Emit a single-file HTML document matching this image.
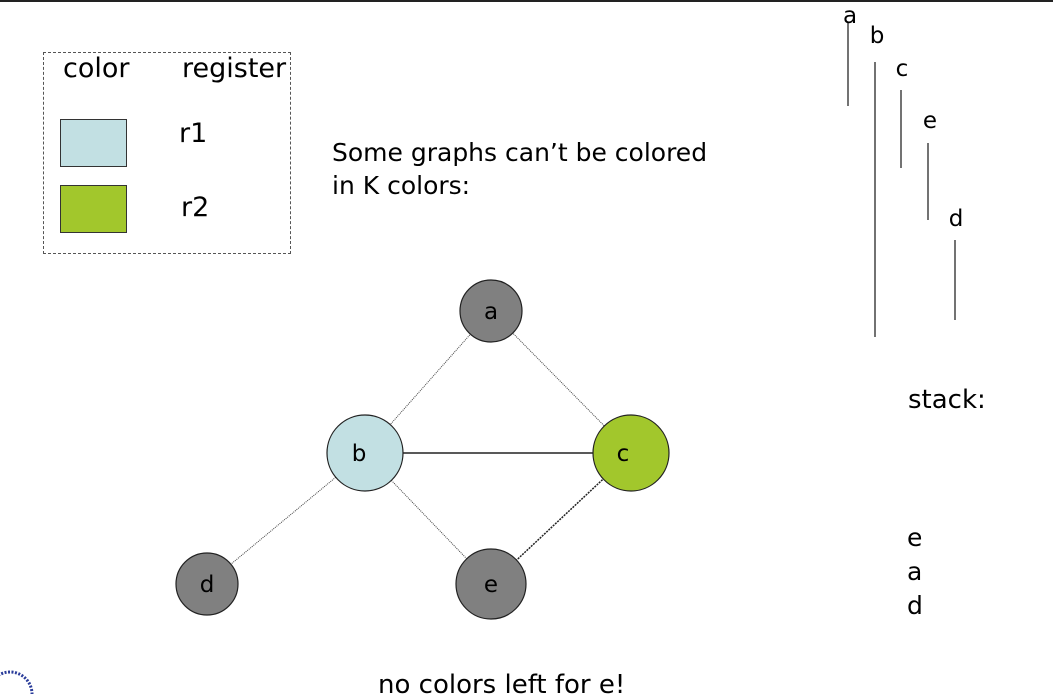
<!DOCTYPE html>
<html><head><style>
body{margin:0;width:1053px;height:694px;background:#fff;overflow:hidden;position:relative;font-family:"DejaVu Sans","Liberation Sans",sans-serif;}
.t{position:absolute;color:#000;white-space:nowrap;}
</style></head><body>
<div style="position:absolute;left:0;top:0;width:1053px;height:2px;background:#222"></div>
<div style="position:absolute;left:43px;top:52px;width:246px;height:200px;border:1.5px dashed #555;"></div>
<div class="t" style="left:63px;top:53px;font-size:27px">color</div>
<div class="t" style="left:182px;top:53px;font-size:27px">register</div>
<div style="position:absolute;left:60px;top:119px;width:65px;height:46px;background:#c2e0e3;border:1px solid #333"></div>
<div style="position:absolute;left:60px;top:185px;width:65px;height:46px;background:#a2c72c;border:1px solid #333"></div>
<div class="t" style="left:179px;top:118px;font-size:27px">r1</div>
<div class="t" style="left:181px;top:192px;font-size:27px">r2</div>
<div class="t" style="left:332px;top:136px;font-size:25px;line-height:33px">Some graphs can’t be colored<br>in K colors:</div>
<svg style="position:absolute;left:0;top:0" width="1053" height="694">
<g stroke="#444" fill="none">
<line x1="491" y1="311" x2="365" y2="453" stroke-dasharray="1,1" stroke-width="1"/>
<line x1="491" y1="311" x2="631" y2="453" stroke-dasharray="1,1" stroke-width="1"/>
<line x1="365" y1="453" x2="631" y2="453" stroke="#222" stroke-width="1.5"/>
<line x1="365" y1="453" x2="207" y2="584" stroke-dasharray="1,1" stroke-width="1"/>
<line x1="365" y1="453" x2="491" y2="584" stroke-dasharray="1,1" stroke-width="1"/>
<line x1="631" y1="453" x2="491" y2="584" stroke="#222" stroke-dasharray="2,1" stroke-width="1.5"/>
</g>
<g stroke="#222" stroke-width="1.2">
<circle cx="491" cy="311" r="31" fill="#808080"/>
<circle cx="365" cy="453" r="38" fill="#c2e0e3"/>
<circle cx="631" cy="453" r="38" fill="#a2c72c"/>
<circle cx="207" cy="584" r="31" fill="#808080"/>
<circle cx="491" cy="584" r="35" fill="#808080"/>
</g>
<g font-family="DejaVu Sans, Liberation Sans, sans-serif" font-size="23" text-anchor="middle" fill="#000">
<text x="491" y="319">a</text><text x="359" y="461">b</text><text x="623" y="461">c</text>
<text x="207" y="592">d</text><text x="491" y="592">e</text>
</g>
<g stroke="#444" stroke-width="1.5">
<line x1="848" y1="22" x2="848" y2="106"/>
<line x1="875" y1="62" x2="875" y2="337"/>
<line x1="901" y1="90" x2="901" y2="168"/>
<line x1="928" y1="143" x2="928" y2="220"/>
<line x1="955" y1="240" x2="955" y2="320"/>
</g>
<g font-family="DejaVu Sans, Liberation Sans, sans-serif" font-size="23" text-anchor="middle" fill="#000">
<text x="850" y="23">a</text><text x="877" y="43">b</text><text x="902" y="76">c</text>
<text x="930" y="128">e</text><text x="956" y="226">d</text>
</g>
<circle cx="10" cy="694" r="22" fill="none" stroke="#2a3c9a" stroke-width="3" stroke-dasharray="2,1.5"/>
</svg>
<div class="t" style="left:908px;top:385px;font-size:26px">stack:</div>
<div class="t" style="left:907px;top:521px;font-size:25px;line-height:34px">e<br>a<br>d</div>
<div class="t" style="left:378px;top:670px;font-size:26px">no colors left for e!</div>
</body></html>
